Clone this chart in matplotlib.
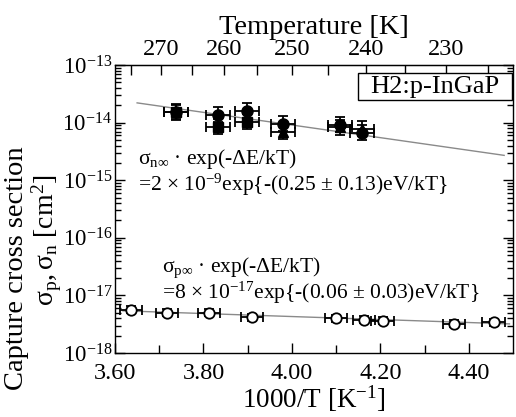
import matplotlib
matplotlib.use("Agg")
import matplotlib.pyplot as plt
import numpy as np
from matplotlib.patches import Rectangle
from matplotlib.ticker import FixedLocator, LogLocator, NullFormatter

plt.rcParams['font.family'] = ['Liberation Serif', 'DejaVu Serif']
plt.rcParams['mathtext.fontset'] = 'custom'
plt.rcParams['mathtext.rm'] = 'Liberation Serif'
plt.rcParams['mathtext.it'] = 'Liberation Serif:italic'
plt.rcParams['mathtext.bf'] = 'Liberation Serif:bold'

# ---- data ----
# electron capture (filled markers)
n_circle_x = [3.738, 3.833, 3.898, 3.979, 4.108, 4.158]
n_circle_y = [1.55e-14, 1.36e-14, 1.62e-14, 9.6e-15, 9.2e-15, 6.7e-15]
n_square_x = [3.738, 3.833, 3.898]
n_square_y = [1.50e-14, 8.5e-15, 1.03e-14]
n_tri_x = [3.979, 4.108, 4.158]
n_tri_y = [7.0e-15, 8.3e-15, 7.8e-15]
n_xerr = 0.027
n_yerr_frac = 0.35

# hole capture (open circles)
p_x = [3.636, 3.717, 3.812, 3.909, 4.099, 4.164, 4.205, 4.367, 4.456]
p_y = [5.6e-18, 4.95e-18, 4.95e-18, 4.2e-18, 4.05e-18, 3.75e-18, 3.6e-18, 3.2e-18, 3.45e-18]
p_xerr = 0.025
p_yerr_frac = 0.15

# fit lines (end points)
n_fit_x = [3.65, 4.48]
n_fit_y = [2.2e-14, 2.7e-15]
p_fit_x = [3.618, 4.492]
p_fit_y = [5.4e-18, 3.2e-18]

x_ticks = [3.60, 3.80, 4.00, 4.20, 4.40]
x_ticklabels = ['3.60', '3.80', '4.00', '4.20', '4.40']
y_ticks = [1e-18, 1e-17, 1e-16, 1e-15, 1e-14, 1e-13]
y_ticklabels = [r'$\mathregular{10^{-18}}$', r'$\mathregular{10^{-17}}$', r'$\mathregular{10^{-16}}$',
                r'$\mathregular{10^{-15}}$', r'$\mathregular{10^{-14}}$', r'$\mathregular{10^{-13}}$']
top_ticks = [270, 260, 250, 240, 230]
top_minor = [275, 265, 255, 245, 235, 225]

fig = plt.figure(figsize=(5.16, 4.17), dpi=100)
ax = fig.add_axes([115/516, 64/417, 398/516, 288/417])

ax.plot(n_fit_x, n_fit_y, color='#8a8a8a', lw=1.0, zorder=1)
ax.plot(p_fit_x, p_fit_y, color='#8a8a8a', lw=1.0, zorder=1)

ekw = dict(ecolor='black', elinewidth=1.3, capsize=3.5, capthick=1.3, linestyle='none', zorder=3)

def yerr(vals, frac):
    v = np.array(vals)
    return [v - v / (1 + frac), v * frac]

ax.errorbar(n_square_x, n_square_y, xerr=n_xerr, yerr=yerr(n_square_y, n_yerr_frac),
            marker='s', ms=7, mfc='black', mec='black', **ekw)
ax.errorbar(n_tri_x, n_tri_y, xerr=n_xerr, yerr=yerr(n_tri_y, n_yerr_frac),
            marker='^', ms=7, mfc='black', mec='black', **ekw)
ax.errorbar(n_circle_x, n_circle_y, xerr=n_xerr, yerr=yerr(n_circle_y, n_yerr_frac),
            marker='o', ms=8, mfc='black', mec='black', **ekw)
ax.errorbar(p_x, p_y, xerr=p_xerr, yerr=yerr(p_y, p_yerr_frac),
            marker='o', ms=7.5, mfc='white', mec='black', mew=1.3, **ekw)

ax.set_xscale('linear')
ax.set_yscale('log')
ax.set_xlim(3.60, 4.50)
ax.set_ylim(1e-18, 1e-13)

ax.set_xticks(x_ticks)
ax.set_xticklabels(x_ticklabels)
ax.xaxis.set_minor_locator(FixedLocator([3.70, 3.90, 4.10, 4.30]))
ax.set_yticks(y_ticks)
ax.set_yticklabels(y_ticklabels)
ax.yaxis.set_minor_locator(LogLocator(base=10, subs=np.arange(2, 10), numticks=20))
ax.yaxis.set_minor_formatter(NullFormatter())

ax.tick_params(axis='both', which='both', direction='in', labelsize=17.5, colors='black')
ax.tick_params(axis='x', which='both', top=False, bottom=True, pad=7)
ax.tick_params(axis='y', which='both', left=True, right=True, pad=2, labelsize=16.5)
ax.tick_params(which='major', length=7, width=1)
ax.tick_params(which='minor', length=4, width=1)
ax.tick_params(axis='x', which='minor', length=6)

for s in ax.spines.values():
    s.set_linewidth(1.0)
    s.set_color('black')

ax.set_xlabel(r'1000/T [K$\mathregular{^{-1}}$]', fontsize=19.5, labelpad=0)

# y label as two separately placed lines (as in the reference)
fig.text(17/516, 1 - 268/417, 'Capture cross section', rotation=90, fontsize=20.5,
         ha='center', va='center')
fig.text(47/516, 1 - 240/417, r'$\mathregular{\sigma_p, \sigma_n\ [cm^2]}$', rotation=90,
         fontsize=20, ha='center', va='center')

sec = ax.secondary_xaxis('top', functions=(lambda x: 1000 / x, lambda t: 1000 / t))
sec.set_xticks(top_ticks)
sec.set_xticklabels([str(t) for t in top_ticks])
sec.xaxis.set_minor_locator(FixedLocator(top_minor))
sec.tick_params(axis='x', which='both', direction='in', labelsize=17.5, length=7, width=1)
sec.set_xlabel('Temperature [K]', fontsize=20.5, labelpad=4)

fs = 15.5
ax.text(0.057, 0.675, r'$\mathregular{\sigma_{n\infty}}$ · exp(-ΔE/kT)', transform=ax.transAxes,
        fontsize=fs, ha='left', va='center')
ax.text(0.057, 0.585, r'=2 × 10$\mathregular{^{-9}}$exp{-(0.25 ± 0.13)eV/kT}', transform=ax.transAxes,
        fontsize=fs, ha='left', va='center')
ax.text(0.118, 0.295, r'$\mathregular{\sigma_{p\infty}}$ · exp(-ΔE/kT)', transform=ax.transAxes,
        fontsize=fs, ha='left', va='center')
ax.text(0.118, 0.208, r'=8 × 10$\mathregular{^{-17}}$exp{-(0.06 ± 0.03)eV/kT}', transform=ax.transAxes,
        fontsize=fs, ha='left', va='center')

ax.add_patch(Rectangle((0.611, 0.878), 0.386, 0.094, transform=ax.transAxes,
                       fc='white', ec='black', lw=1.0, zorder=5))
ax.text(0.804, 0.923, 'H2:p-InGaP', transform=ax.transAxes, fontsize=19, ha='center', va='center',
        zorder=6)

fig.savefig('out.png', dpi=100)
